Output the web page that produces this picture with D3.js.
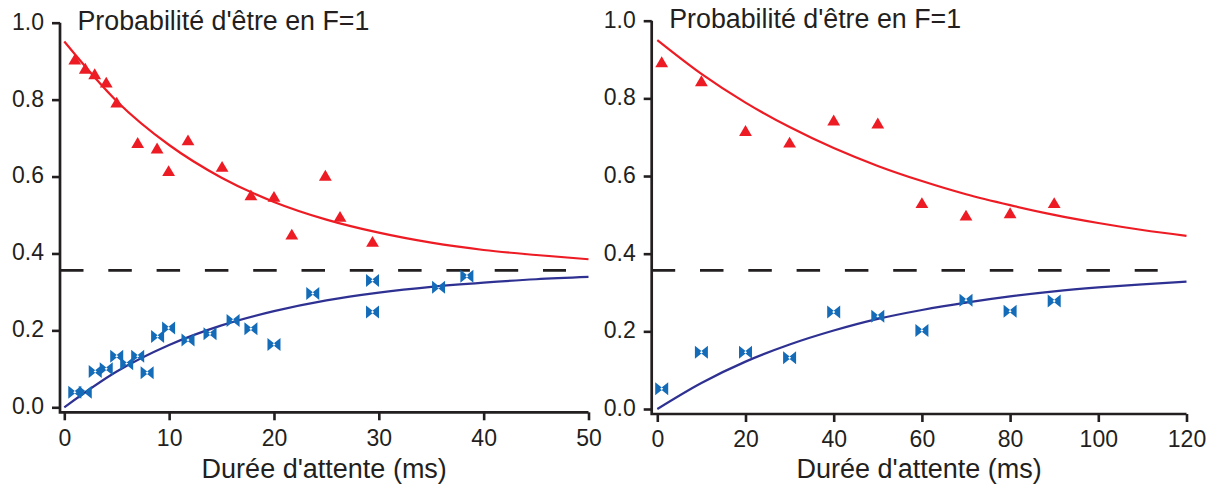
<!DOCTYPE html>
<meta charset="utf-8">
<script src="https://d3js.org/d3.v7.min.js"></script>
<style>
    body { margin: 0; background: #fff; }
    text { font-family: "Liberation Sans", Arial, sans-serif; fill: #231f20; }
</style>
<div id="base"></div>
<script>
    // ---- left panel data (0-50 ms) ----
    var leftRedT = [1, 2, 2.9, 4, 5, 7, 8.85, 9.95, 11.8, 15.05, 17.8, 20, 21.7, 24.9, 26.3, 29.4];
    var leftRedP = [0.905, 0.881, 0.867, 0.845, 0.793, 0.688, 0.674, 0.615, 0.695, 0.626, 0.552, 0.548, 0.450, 0.603, 0.496, 0.431];
    var leftBlueT = [1, 2, 2.95, 4, 5, 5.95, 7, 7.9, 8.9, 9.95, 11.8, 13.9, 16.1, 17.8, 20, 23.7, 29.4, 29.4, 35.7, 38.4];
    var leftBlueP = [0.039, 0.039, 0.093, 0.1, 0.133, 0.113, 0.133, 0.09, 0.184, 0.206, 0.175, 0.191, 0.226, 0.204, 0.163, 0.296, 0.330, 0.248, 0.312, 0.341];
    var leftFitT = [0, 5, 10, 15, 20, 25, 30, 35, 40, 45, 50];
    var leftFitRed = [0.951, 0.796, 0.682, 0.597, 0.534, 0.488, 0.454, 0.428, 0.409, 0.396, 0.385];
    var leftFitBlue = [0, 0.093, 0.162, 0.213, 0.250, 0.278, 0.298, 0.313, 0.324, 0.333, 0.339];
    var leftTicksX = [0, 10, 20, 30, 40, 50];

    // ---- right panel data (0-120 ms) ----
    var rightRedT = [1, 10, 20, 30, 40, 50, 60, 70, 80, 90];
    var rightRedP = [0.894, 0.845, 0.717, 0.687, 0.744, 0.736, 0.531, 0.499, 0.505, 0.531];
    var rightBlueT = [1, 10, 20, 30, 40, 50, 60, 70, 80, 90];
    var rightBlueP = [0.052, 0.146, 0.146, 0.132, 0.250, 0.239, 0.202, 0.280, 0.252, 0.278];
    var rightFitT = [0, 10, 20, 30, 40, 50, 60, 70, 80, 90, 100, 110, 120];
    var rightFitRed = [0.950, 0.863, 0.789, 0.726, 0.672, 0.626, 0.587, 0.553, 0.525, 0.500, 0.479, 0.461, 0.446];
    var rightFitBlue = [0, 0.067, 0.122, 0.166, 0.202, 0.232, 0.255, 0.274, 0.290, 0.303, 0.313, 0.321, 0.328];
    var rightTicksX = [0, 20, 40, 60, 80, 100, 120];

    var ticksY = [0, 0.2, 0.4, 0.6, 0.8, 1.0];
    var title = "Probabilité d'être en F=1";
    var xLabel = "Durée d'attente (ms)";

    var ink = "#231f20", red = "#ed1c24", navy = "#2e3192", blue = "#146cb8";

    var svg = d3.select("#base")
        .append("svg")
        .attr("width", 1227)
        .attr("height", 488);

    function panel(p) {
        var x = d3.scaleLinear().domain([0, p.xMax]).range([p.x0, p.x1]);
        var y = d3.scaleLinear().domain([0, 1]).range([p.y0, p.y1]);
        var g = svg.append("g");

        // dashed equilibrium level
        g.append("line")
            .attr("x1", p.axisX).attr("x2", p.axisX + 506)
            .attr("y1", y(p.level)).attr("y2", y(p.level))
            .style("stroke", ink).style("stroke-width", 2.6)
            .style("stroke-dasharray", "23.5,24.8");

        // fitted curves
        var line = d3.line()
            .x(function (d) { return x(d[0]); })
            .y(function (d) { return y(d[1]); })
            .curve(d3.curveMonotoneX);
        g.append("path")
            .attr("d", line(d3.zip(p.fitT, p.fitRed)))
            .style("fill", "none").style("stroke", red).style("stroke-width", 2.2);
        g.append("path")
            .attr("d", line(d3.zip(p.fitT, p.fitBlue)))
            .style("fill", "none").style("stroke", navy).style("stroke-width", 2.2);

        // markers
        g.selectAll(".tri")
            .data(d3.zip(p.redT, p.redP))
            .enter().append("path")
            .attr("class", "tri")
            .attr("transform", function (d) { return "translate(" + x(d[0]) + "," + y(d[1]) + ")"; })
            .attr("d", "M0,-5.6L6.4,5.3L-6.4,5.3Z")
            .style("fill", red);
        g.selectAll(".bow")
            .data(d3.zip(p.blueT, p.blueP))
            .enter().append("path")
            .attr("class", "bow")
            .attr("transform", function (d) { return "translate(" + x(d[0]) + "," + y(d[1]) + ")"; })
            .attr("d", "M-6.5,-6.5L1.6,0L-6.5,6.5ZM6.5,-6.5L-1.6,0L6.5,6.5Z")
            .style("fill", blue);

        // y axis
        var ya = g.append("g")
            .attr("transform", "translate(" + p.axisX + ",0)")
            .call(d3.axisLeft(y).tickValues(ticksY).tickSize(8).tickPadding(8)
                .tickFormat(d3.format(".1f")));
        // x axis
        var xa = g.append("g")
            .attr("transform", "translate(0," + p.axisY + ")")
            .call(d3.axisBottom(x).tickValues(p.ticksX).tickSize(8).tickPadding(9));
        [ya, xa].forEach(function (a) {
            a.select(".domain").remove();
            a.selectAll("line").style("stroke", ink).style("stroke-width", 2.6);
            a.selectAll("text").style("font-size", "23px").style("fill", ink)
                .attr("font-family", null);
        });
        ya.selectAll("text").attr("dy", "0.28em");

        g.append("path")
            .attr("d", "M" + p.axisX + "," + y(1) + "V" + p.axisY + "H" + x(p.xMax))
            .style("fill", "none").style("stroke", ink).style("stroke-width", 2.7);

        g.append("text")
            .attr("x", p.axisX + 17.5).attr("y", y(1) + 7)
            .style("font-size", "26.8px")
            .text(title);
        g.append("text")
            .attr("x", (p.axisX + x(p.xMax)) / 2).attr("y", 478)
            .attr("text-anchor", "middle")
            .style("font-size", "27px")
            .text(xLabel);
    }

    panel({
        xMax: 50, x0: 64.3, x1: 588.5, y0: 407.3, y1: 22.7, axisX: 60, axisY: 412.3,
        level: 0.356, ticksX: leftTicksX,
        redT: leftRedT, redP: leftRedP, blueT: leftBlueT, blueP: leftBlueP,
        fitT: leftFitT, fitRed: leftFitRed, fitBlue: leftFitBlue
    });
    panel({
        xMax: 120, x0: 657.3, x1: 1186.5, y0: 409, y1: 20.7, axisX: 651.7, axisY: 414,
        level: 0.357, ticksX: rightTicksX,
        redT: rightRedT, redP: rightRedP, blueT: rightBlueT, blueP: rightBlueP,
        fitT: rightFitT, fitRed: rightFitRed, fitBlue: rightFitBlue
    });
</script>
